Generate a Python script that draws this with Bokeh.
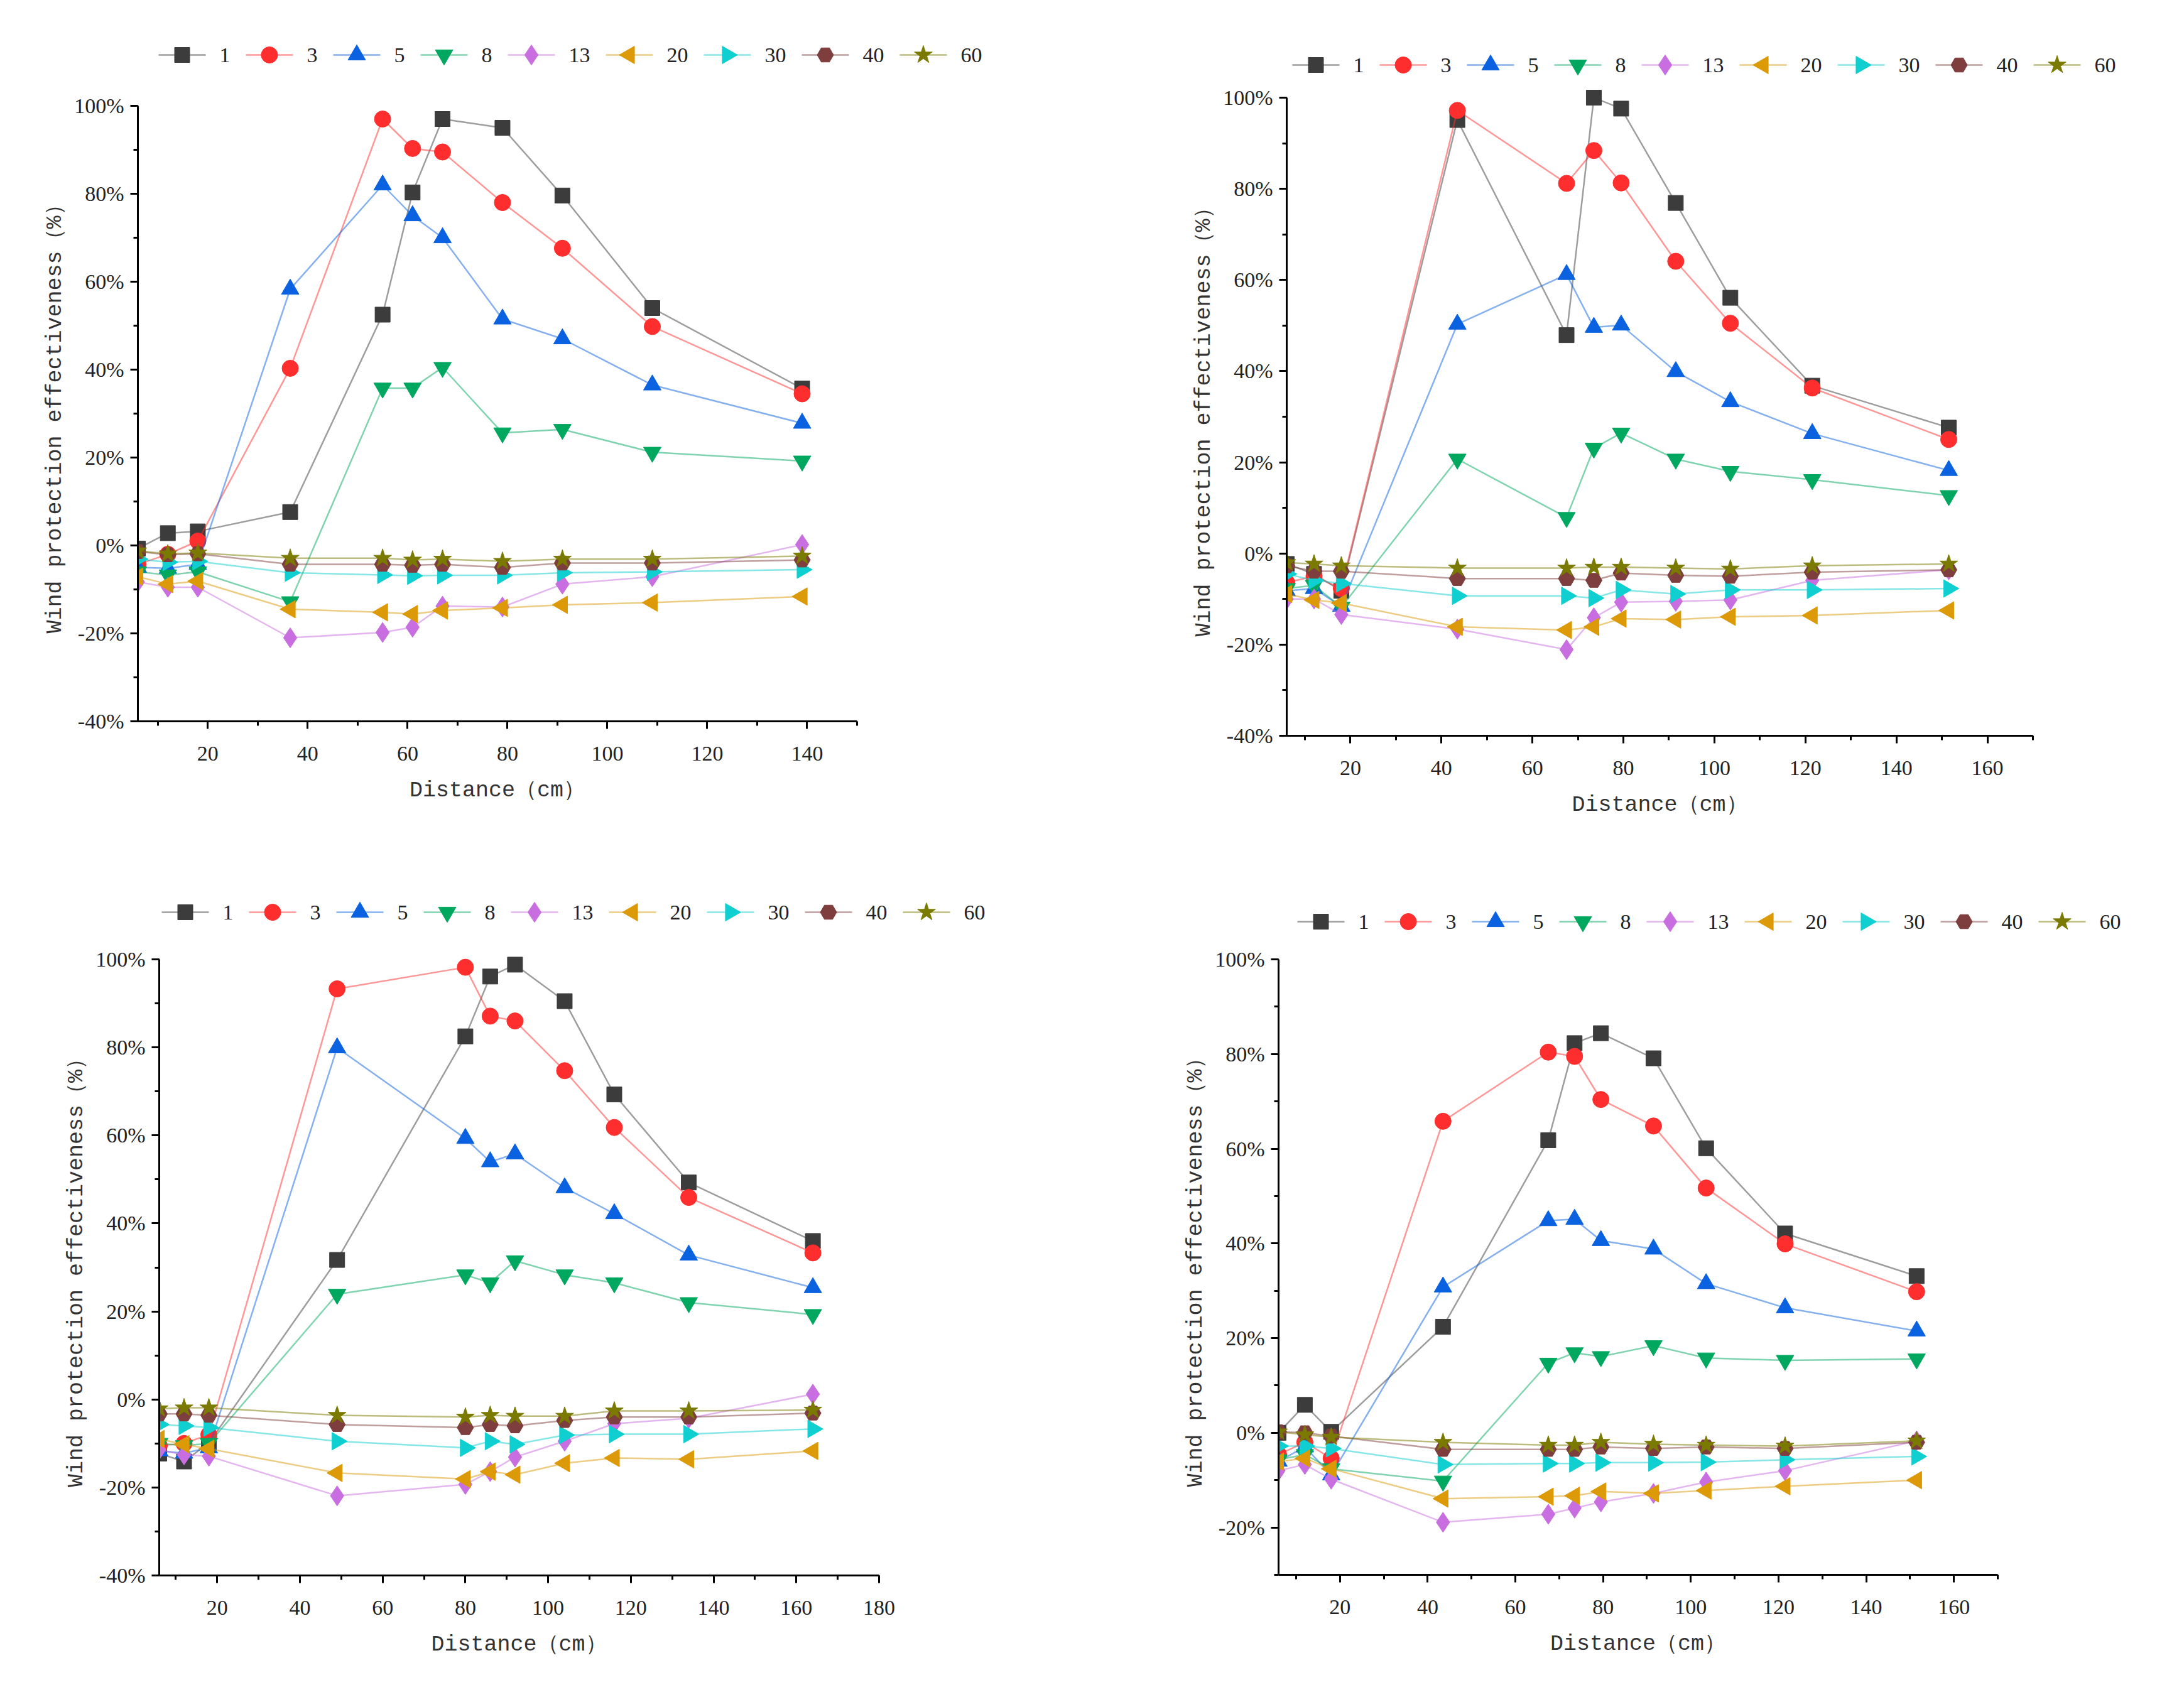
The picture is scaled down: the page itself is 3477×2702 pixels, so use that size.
import numpy as np
from bokeh.plotting import figure
from bokeh.layouts import row, column
from bokeh.models import Range1d, SingleIntervalTicker, PrintfTickFormatter, Title
from bokeh.core.properties import value
from bokeh.embed import file_html
from bokeh.resources import INLINE

labels = ["1", "3", "5", "8", "13", "20", "30", "40", "60"]

# panel (a) - top left
dist_a = [6, 12, 18, 36.5, 55, 61, 67, 79, 91, 109, 139]
eff_a = {
    "1": [-0.7, 2.8, 3.2, 7.6, 52.5, 80.3, 97.0, 95.0, 79.6, 54.0, 35.7],
    "3": [-4.3, -2.0, 1.0, 40.3, 97.0, 90.3, 89.5, 78.0, 67.6, 49.8, 34.5],
    "5": [-5.0, -5.2, -4.3, 58.3, 82.0, 75.0, 70.0, 51.5, 47.0, 36.5, 27.8],
    "8": [-6.0, -6.7, -6.0, -12.8, 35.8, 35.8, 40.5, 25.6, 26.4, 21.2, 19.2],
    "13": [-8.3, -9.5, -9.5, -21.0, -19.8, -18.6, -13.8, -14.0, -8.8, -7.1, 0.2],
    "20": [-7.1, -8.8, -8.1, -14.5, -15.2, -15.6, -14.8, -14.2, -13.5, -13.0, -11.6],
    "30": [-3.1, -3.8, -3.6, -6.2, -6.7, -6.9, -6.8, -6.8, -6.2, -6.0, -5.5],
    "40": [-1.4, -2.1, -1.9, -4.3, -4.3, -4.5, -4.3, -5.0, -4.0, -4.0, -3.3],
    "60": [-1.2, -1.9, -1.7, -2.9, -2.9, -3.3, -3.1, -3.6, -3.1, -3.1, -2.4],
}

# panel (b) - top right
dist_b = [6, 12, 18, 43.5, 67.5, 73.5, 79.5, 91.5, 103.5, 121.5, 151.5]
eff_b = {
    "1": [-2.3, -4.5, -8.2, 95.1, 47.9, 100.0, 97.6, 76.9, 56.1, 36.8, 27.6],
    "3": [-6.4, -5.0, -7.7, 97.2, 81.2, 88.4, 81.3, 64.1, 50.5, 36.3, 25.0],
    "5": [-8.2, -7.7, -11.6, 50.3, 61.2, 49.6, 50.1, 39.9, 33.3, 26.3, 18.2],
    "8": [-7.7, -7.0, -11.8, 20.7, 7.9, 23.1, 26.4, 20.7, 18.0, 16.2, 12.7],
    "13": [-10.0, -10.0, -13.4, -16.6, -21.1, -14.1, -10.7, -10.5, -10.2, -5.9, -3.6],
    "20": [-8.9, -10.2, -10.9, -16.1, -16.8, -16.1, -14.3, -14.5, -13.9, -13.6, -12.5],
    "30": [-4.5, -5.9, -6.6, -9.3, -9.3, -9.8, -8.0, -8.9, -8.0, -8.0, -7.7],
    "40": [-2.7, -3.9, -3.9, -5.5, -5.5, -5.9, -4.3, -4.8, -5.0, -4.1, -3.6],
    "60": [-2.0, -2.3, -2.7, -3.2, -3.2, -3.0, -3.0, -3.2, -3.4, -2.7, -2.3],
}

# panel (c) - bottom left
dist_c = [6, 12, 18, 49, 80, 86, 92, 104, 116, 134, 164]
eff_c = {
    "1": [-12.3, -14.1, -9.9, 31.7, 82.5, 96.1, 98.8, 90.5, 69.3, 49.3, 36.0],
    "3": [-10.5, -10.0, -8.0, 93.3, 98.2, 87.1, 86.0, 74.7, 61.8, 45.9, 33.3],
    "5": [-11.7, -12.2, -11.0, 79.9, 59.3, 54.0, 55.8, 48.1, 42.2, 32.8, 25.4],
    "8": [-10.0, -10.5, -10.0, 23.9, 28.3, 26.5, 31.5, 28.3, 26.5, 22.0, 19.3],
    "13": [-11.4, -12.6, -12.9, -21.9, -19.3, -16.4, -13.1, -9.5, -5.5, -4.3, 1.2],
    "20": [-9.0, -10.2, -11.2, -16.7, -18.1, -16.4, -17.1, -14.5, -13.3, -13.6, -11.7],
    "30": [-5.7, -6.0, -6.4, -9.5, -11.0, -9.5, -10.2, -8.1, -7.9, -7.9, -6.7],
    "40": [-3.3, -3.3, -3.6, -5.7, -6.4, -5.7, -6.0, -4.8, -4.0, -4.0, -3.1],
    "60": [-2.1, -1.9, -1.9, -3.6, -4.0, -3.6, -3.8, -3.8, -2.6, -2.6, -2.4],
}

# panel (d) - bottom right
dist_d = [6, 12, 18, 43.5, 67.5, 73.5, 79.5, 91.5, 103.5, 121.5, 151.5]
eff_d = {
    "1": [0.0, 5.9, 0.2, 22.4, 61.8, 82.3, 84.4, 79.1, 60.1, 42.1, 33.1],
    "3": [-4.6, -2.0, -5.4, 65.8, 80.4, 79.5, 70.4, 64.8, 51.7, 39.9, 29.8],
    "5": [-6.0, -3.0, -8.9, 30.8, 44.8, 45.1, 40.6, 38.8, 31.5, 26.4, 21.5],
    "8": [-5.7, -4.6, -7.6, -10.2, 14.7, 16.9, 16.1, 18.4, 15.8, 15.3, 15.6],
    "13": [-8.0, -6.7, -9.8, -18.9, -17.2, -15.9, -14.6, -12.8, -10.4, -8.0, -1.7],
    "20": [-6.1, -5.4, -7.6, -13.9, -13.5, -13.3, -12.4, -12.8, -12.2, -11.3, -10.0],
    "30": [-2.8, -2.8, -3.3, -6.7, -6.5, -6.5, -6.3, -6.3, -6.2, -5.7, -5.0],
    "40": [0.2, 0.0, -0.7, -3.5, -3.5, -3.5, -3.0, -3.3, -3.0, -3.3, -2.0],
    "60": [0.2, -0.4, -0.9, -2.0, -2.6, -2.6, -2.0, -2.4, -2.6, -2.8, -1.7],
}

colors = ["#3c3c3c", "#ff2e2e", "#0a62e0", "#00a85f", "#c96ee0",
          "#dc9a08", "#10cfd0", "#7f3e3e", "#7a7a00"]
markers = ["square", "circle", "triangle", "inverted_triangle", "diamond",
           "triangle", "triangle", "hex", "star"]
angles = [0, 0, 0, 0, 0, np.pi / 2, -np.pi / 2, 0, 0]
sizes = [24, 26, 28, 28, 32, 28, 28, 26, 30]

SERIF = "Liberation Serif"
MONO = "Liberation Mono"
FS = 34      # tick / legend font size (px)
LFS = 35     # axis title font size (px)
XTITLE = "Distance\uff08cm\uff09"
YTITLE = "Wind protection effectiveness\uff08%\uff09"


def title_width(text):
    # mono latin chars are 0.6em, the full-width brackets 1em
    wide = sum(1 for c in text if ord(c) > 0x2000)
    return (len(text) - wide) * 0.6 * LFS + wide * LFS


def make_panel(dist, eff, xlim, ylim, fig_box, axis_box, frame_top, frame_right, leg):
    # fig_box / axis_box / leg are page pixel positions of the layout
    fx, fy, fw, fh = fig_box
    L, T, R, B = axis_box
    x0, x1 = xlim
    y0, y1 = ylim
    kx = (R - L) / (x1 - x0)
    ky = (B - T) / (y1 - y0)
    x_end = x0 + (frame_right - L) / kx
    y_end = y1 + (T - frame_top) / ky

    p = figure(width=fw, height=fh, output_backend="svg", toolbar_location=None,
               x_range=Range1d(x0, x_end), y_range=Range1d(y0, y_end),
               min_border_left=L - fx, min_border_top=frame_top - fy,
               min_border_right=fx + fw - frame_right, min_border_bottom=fy + fh - B,
               outline_line_color=None)
    p.xgrid.visible = False
    p.ygrid.visible = False

    p.xaxis.ticker = SingleIntervalTicker(interval=20, num_minor_ticks=2)
    p.yaxis.ticker = SingleIntervalTicker(interval=20, num_minor_ticks=2)
    p.xaxis.bounds = (x0, x1)
    p.yaxis.bounds = (y0, y1)
    p.yaxis.formatter = PrintfTickFormatter(format="%d%%")
    for ax in (p.xaxis, p.yaxis):
        ax.axis_line_width = 3
        ax.major_tick_line_width = 3
        ax.minor_tick_line_width = 3
        ax.major_tick_in = 0
        ax.major_tick_out = 12
        ax.minor_tick_in = 0
        ax.minor_tick_out = 7
        ax.major_label_text_font = SERIF
        ax.major_label_text_font_size = f"{FS}px"
        ax.major_label_text_color = "#222222"
    p.xaxis.major_label_standoff = 28
    p.yaxis.major_label_standoff = 10

    # axis titles centred on the axis lines, not on the (larger) frame
    xt = Title(text=XTITLE, align="left",
               offset=(R - L) / 2 - title_width(XTITLE) / 2, standoff=47,
               text_font=MONO, text_font_size=f"{LFS}px", text_font_style="normal",
               text_color="#333333")
    p.add_layout(xt, "below")
    yt = Title(text=YTITLE, align="left",
               offset=(B - T) / 2 - title_width(YTITLE) / 2, standoff=16,
               text_font=MONO, text_font_size=f"{LFS}px", text_font_style="normal",
               text_color="#333333")
    p.add_layout(yt, "left")

    for i, lab in enumerate(labels):
        p.line(dist, eff[lab], line_color=colors[i], line_alpha=0.5, line_width=2.5)
        p.scatter(dist, eff[lab], marker=markers[i], size=sizes[i], angle=angles[i],
                  fill_color=colors[i], line_color=colors[i], line_width=1)

    # legend row above the axes, laid out in pixels then mapped to data space
    def dx(px):
        return x0 + (px - L) / kx

    lx, lcy = leg
    ly = y0 + (B - lcy) / ky
    sx = lx
    for i, lab in enumerate(labels):
        p.line([dx(sx), dx(sx + 75)], [ly, ly], line_color=colors[i],
               line_alpha=0.5, line_width=2.5)
        p.scatter([dx(sx + 37.5)], [ly], marker=markers[i], size=sizes[i],
                  angle=angles[i], fill_color=colors[i], line_color=colors[i],
                  line_width=1)
        p.text([dx(sx + 97)], [ly], text=[lab], text_font=value(SERIF),
               text_font_size=f"{FS}px", text_baseline="middle", text_align="left",
               text_color="#222222")
        sx += 97 + len(lab) * FS * 0.5 + 25
    return p


p1 = make_panel(dist_a, eff_a, (6, 150), (-40, 100), (0, 0, 1840, 1380),
                (219, 168, 1364, 1148), 40, 1800, (252, 87))
p2 = make_panel(dist_b, eff_b, (6, 170), (-40, 100), (1840, 0, 1621, 1380),
                (2048, 155, 3236, 1171), 40, 3440, (2057, 103))
p3 = make_panel(dist_c, eff_c, (6, 180), (-40, 100), (0, 1380, 1840, 1306),
                (253, 1527, 1399, 2508), 1400, 1800, (257, 1452))
p4 = make_panel(dist_d, eff_d, (6, 170), (-30, 100), (1840, 1380, 1621, 1306),
                (2035, 1527, 3180, 2507), 1400, 3440, (2065, 1467))

layout = row(column(row(p1), row(p3)), column(row(p2), row(p4)))

open("out.html", "w").write(file_html(layout, INLINE))
